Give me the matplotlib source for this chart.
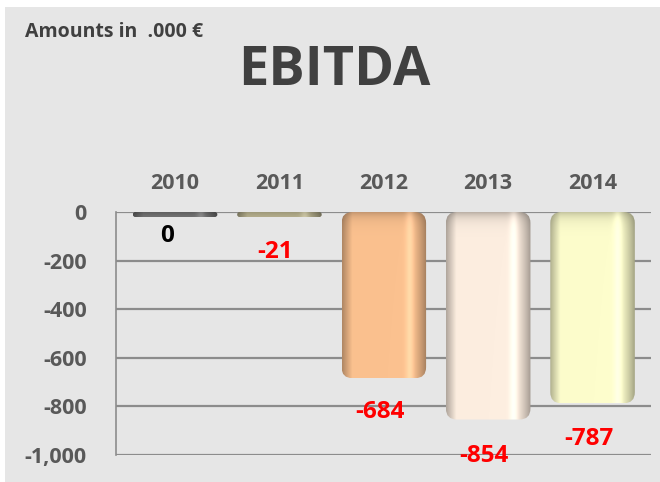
import numpy as np
import matplotlib
matplotlib.use("Agg")
import matplotlib.pyplot as plt
from matplotlib.patches import FancyBboxPatch, Rectangle
from matplotlib.colors import to_rgb

years = ["2010", "2011", "2012", "2013", "2014"]
ebitda = [0, -21, -684, -854, -787]
bar_colors = ["#7f7f7f", "#c8c19b", "#fbc18f", "#fdeee0", "#fdfdcc"]
label_colors = ["#000000", "#ff0000", "#ff0000", "#ff0000", "#ff0000"]
yticks = [0, -200, -400, -600, -800, -1000]
ytick_labels = ["0", "-200", "-400", "-600", "-800", "-1,000"]

FONT = ["Open Sans", "DejaVu Sans"]
plt.rcParams["font.family"] = FONT

fig = plt.figure(figsize=(6.6, 4.82), dpi=100)
fig.patch.set_facecolor("white")
fig.patches.append(Rectangle((5 / 660, 0), 1, 1 - 7 / 482, transform=fig.transFigure,
                             facecolor="#e6e6e6", edgecolor="none", zorder=-10))

ax = fig.add_axes([116 / 660, 1 - 455 / 482, (651 - 116) / 660, (455 - 212) / 482])
ax.set_facecolor("none")
ax.set_xlim(-0.566, 4.56)
ax.set_ylim(-1000, 0)

x = np.arange(len(years))
width = 0.81
bars = ax.bar(x, ebitda, width=width, color="none", edgecolor="none")

px_per_x = (651 - 116) / (4.56 + 0.566)
px_per_y = (455 - 212) / 1000.0
rad_px = 11
for b, c in zip(bars, bar_colors):
    x0 = b.get_x()
    w = b.get_width()
    h = b.get_height()
    y0 = b.get_y()
    ylo, yhi = min(y0, y0 + h), max(y0, y0 + h)
    hh = yhi - ylo
    minh = 5 / px_per_y
    if hh < minh:
        ylo = yhi - minh
        hh = minh
    r = min(rad_px / px_per_x, (hh * px_per_y / 2) / px_per_x)
    patch = FancyBboxPatch((x0, ylo), w, hh,
                           boxstyle=f"round,pad=0,rounding_size={r}",
                           mutation_aspect=px_per_x / px_per_y,
                           facecolor="none", edgecolor="none", zorder=3)
    ax.add_patch(patch)
    base = np.array(to_rgb(c))
    nx, ny = 120, 200
    u = np.linspace(0, 1, nx)
    prof = (0.70 + 0.30 * np.clip(u / 0.12, 0, 1)) * \
           np.where(u > 0.80, 1.0 - 0.35 * ((u - 0.80) / 0.20) ** 1.5, 1.0)
    hl = 0.10 * np.exp(-((u - 0.80) / 0.05) ** 2)
    v = np.linspace(0, 1, ny)[:, None]
    bottom_px = (1 - v) * hh * px_per_y
    vshade = 1.0 - 0.25 * np.exp(-bottom_px / 6.0)
    img = base[None, None, :] * prof[None, :, None] * vshade[:, :, None] + hl[None, :, None]
    img = np.clip(img, 0, 1)
    im = ax.imshow(img, extent=(x0, x0 + w, ylo, yhi), origin="lower",
                   aspect="auto", interpolation="bilinear", zorder=3)
    im.set_clip_path(patch)

ax.set_aspect("auto")
ax.set_xlim(-0.566, 4.56)
ax.set_ylim(-1000, 0)

ax.set_yticks(yticks)
ax.set_yticklabels(ytick_labels)
ax.yaxis.grid(True, color="#8c8c8c", linewidth=1.6)
ax.set_axisbelow(True)
for s in ["top", "right", "bottom"]:
    ax.spines[s].set_visible(False)
ax.spines["left"].set_color("#8c8c8c")
ax.spines["left"].set_linewidth(1.2)
ax.tick_params(axis="y", length=0, pad=21, labelsize=15.5, labelcolor="#595959")
for t in ax.get_yticklabels():
    t.set_fontweight("bold")

ax.xaxis.tick_top()
ax.set_xticks(x)
ax.set_xticklabels(years)
ax.tick_params(axis="x", length=0, pad=13, labelsize=15.5, labelcolor="#595959")
for t in ax.get_xticklabels():
    t.set_fontweight("bold")

offsets = [-17, -25, -24, -26, -26]
for xi, val, lc, off in zip(x, ebitda, label_colors, offsets):
    ax.annotate(f"{val:,}", (xi, val), xytext=(-6 if val == 0 else -3, off),
                textcoords="offset points", ha="center", va="center",
                fontsize=17.5, fontweight="bold", color=lc, zorder=5,
                annotation_clip=False)

fig.text(25 / 660, 1 - 32 / 482, "Amounts in  .000 €", fontsize=14,
         fontweight="bold", color="#404040", ha="left", va="center")
fig.text(334 / 660, 1 - 71 / 482, "EBITDA", fontsize=39, fontweight="bold",
         color="#404040", ha="center", va="center")

fig.savefig("out.png", dpi=100, facecolor=fig.get_facecolor())
